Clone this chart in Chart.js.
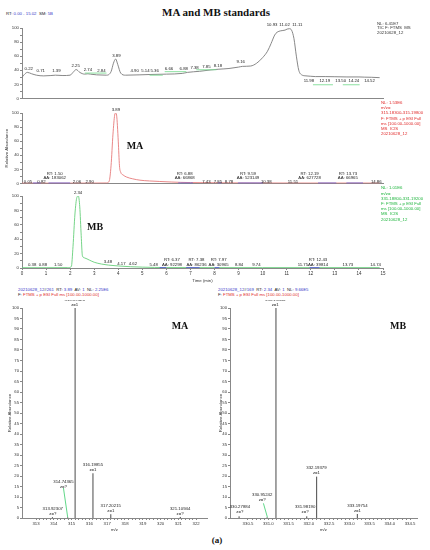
<!DOCTYPE html>
<html>
<head>
<meta charset="utf-8">
<script src="https://cdn.jsdelivr.net/npm/chart.js@4"></script>
<style>
    body { margin: 0; width: 430px; height: 550px; position: relative; overflow: hidden; background: #fff;
           font-family: "Liberation Sans", Arial, sans-serif; }
    canvas { position: absolute; }
    .t { position: absolute; white-space: nowrap; font-size: 4.3px; line-height: 5px; color: #222; }
    .c { transform: translate(-50%, -50%); }
    .serif { font-family: "Liberation Serif", "Times New Roman", serif; font-weight: bold; color: #111; }
    .b { color: #3535c8; }
    .r { color: #e02a2a; }
    .g { color: #1db43c; }
</style>
</head>
<body>

<canvas id="tic" width="395" height="82" style="left:0;top:20px"></canvas>
<canvas id="xic_ma" width="395" height="82" style="left:0;top:105px"></canvas>
<canvas id="xic_mb" width="395" height="98" style="left:0;top:188px"></canvas>
<canvas id="spec_ma" width="215" height="234" style="left:0;top:300px"></canvas>
<canvas id="spec_mb" width="215" height="234" style="left:215px;top:300px"></canvas>

<div class="t serif c" style="left:216px;top:12px;font-size:11px;line-height:13px">MA and MB standards</div>
<div class="t" style="left:6px;top:10.5px">RT: <span class="b">0.00 - 15.02</span> &nbsp;SM: <span class="b">5B</span></div>

<div class="t" style="left:377px;top:21.7px;line-height:4.5px;color:#333">NL: 6.41E7<br>TIC F: FTMS &nbsp;MS<br>20210628_12</div>
<div class="t r" style="left:381px;top:99.9px;line-height:5.2px">NL: 1.53E6<br>m/z=<br>315.18300-315.19800<br>F: FTMS + p ESI Full<br>ms [100.00-1000.00]<br>MS &nbsp;ICIS<br>20210628_12</div>
<div class="t g" style="left:381px;top:185.4px;line-height:5.2px">NL: 1.01E6<br>m/z=<br>331.18800-331.19200<br>F: FTMS + p ESI Full<br>ms [100.00-1000.00]<br>MS &nbsp;ICIS<br>20210628_12</div>

<div class="t serif c" style="left:135px;top:146px;font-size:10px;line-height:12px">MA</div>
<div class="t serif c" style="left:95px;top:227px;font-size:10px;line-height:12px">MB</div>

<div class="t" style="left:18px;top:286.8px"><span class="b">20210628_12</span>#<span class="b">261</span> &nbsp;RT: <span class="b">3.89</span> &nbsp;AV: <span class="b">1</span> &nbsp;NL: <span class="b">2.25E6</span><br>F: <span class="r">FTMS + p ESI Full ms [100.00-1000.00]</span></div>
<div class="t" style="left:218px;top:286.8px"><span class="b">20210628_12</span>#<span class="b">169</span> &nbsp;RT: <span class="b">2.34</span> &nbsp;AV: <span class="b">1</span> &nbsp;NL: <span class="b">9.66E5</span><br>F: <span class="r">FTMS + p ESI Full ms [100.00-1000.00]</span></div>

<div class="t serif c" style="left:180px;top:326px;font-size:10px;line-height:12px">MA</div>
<div class="t serif c" style="left:398px;top:326px;font-size:10px;line-height:12px">MB</div>
<div class="t serif c" style="left:217px;top:540px;font-size:9px;line-height:11px">(a)</div>

<script>
const FONT = '"Liberation Sans", Arial, sans-serif';

// chromatograms
const timeTicks = [0, 1, 2, 3, 4, 5, 6, 7, 8, 9, 10, 11, 12, 13, 14, 15];
const abundanceTicks = [0, 20, 40, 60, 80, 100];

const ticTime = [0, 0.1, 0.22, 0.4, 0.6, 0.9, 1.2, 1.39, 1.7, 2.0, 2.12, 2.25, 2.4, 2.6, 2.74, 2.84, 3.1, 3.5, 3.7, 3.8, 3.89, 3.98, 4.1, 4.3, 4.9, 5.36, 6.0, 6.66, 6.88, 7.38, 7.85, 8.18, 8.6, 9.0, 9.16, 9.5, 9.75, 10.0, 10.2, 10.35, 10.5, 10.6, 10.75, 10.93, 11.02, 11.11, 11.2, 11.3, 11.4, 11.5, 11.62, 11.8, 11.98, 12.19, 12.6, 13.0, 13.5, 14.0, 14.24, 14.52, 14.86];
const ticValue = [30, 34, 37, 35, 33, 32, 32.5, 33, 32.5, 33, 37, 41, 37, 34.5, 35, 34.5, 33.5, 33, 38, 50, 56, 48, 36, 33, 33.5, 34, 34.5, 35.5, 37, 38.5, 40.5, 41.5, 42.5, 44.5, 45.5, 46, 50, 58, 67, 78, 90, 94, 96, 97, 98.5, 99, 97, 85, 60, 40, 33.5, 32, 31.5, 31, 31, 30.8, 30.5, 30.5, 30.2, 30, 29.5];
const ticLabelText = ['0.22', '0.71', '1.39', '2.25', '2.74', '2.84', '3.89', '4.90', '5.14', '5.36', '6.66', '6.88', '7.38', '7.85', '8.18', '9.16', '10.93', '11.02', '11.11', '11.98', '12.19', '13.50', '14.24', '14.52'];
const ticLabelTime = [0.28, 0.78, 1.43, 2.23, 2.74, 3.30, 3.92, 4.68, 5.13, 5.51, 6.11, 6.72, 7.17, 7.66, 8.14, 9.09, 10.39, 10.91, 11.44, 11.92, 12.58, 13.24, 13.79, 14.44];
const ticLabelLevel = [42, 39.3, 39.3, 45.8, 40.3, 39.3, 61, 38.9, 38.9, 38.9, 41.7, 41.7, 43, 45.4, 46.3, 51.8, 104, 105, 105, 25, 25, 25, 25, 25.4];
const ticBaseStart = [2.61, 5.3, 5.93, 7.24, 10.43, 12.09, 13.33];
const ticBaseEnd = [3.51, 5.85, 6.83, 8.08, 11.54, 12.92, 14.03];
const ticBaseLevel = [36, 33, 38, 40.7, 101, 19.4, 19.4];

const maTime = [0, 1.0, 2.0, 3.0, 3.5, 3.62, 3.7, 3.78, 3.85, 3.89, 3.93, 4.0, 4.05, 4.1, 4.2, 4.35, 4.6, 4.9, 5.3, 5.7, 6.2, 6.6, 7.0, 8.0, 9.0, 10.0, 12.0, 14.86];
const maValue = [0.4, 0.4, 0.4, 0.5, 0.6, 3, 25, 70, 97, 100, 97, 60, 25, 16, 12, 9, 6.5, 4.6, 3.5, 2.8, 2, 1.5, 1.2, 0.9, 0.7, 0.6, 0.5, 0.5];
const maLabelText = ['0.05', '0.82', 'RT: 1.50\nAA: 183062', '2.06', '2.90', 'RT: 6.88\nAA: 66868', '7.43', '7.85', '8.78', 'RT: 9.59\nAA: 523149', '10.38', '11.51', 'RT: 12.19\nAA: 627728', 'RT: 13.73\nAA: 66965', '14.86', '3.89'];
const maLabelTime = [0.25, 0.81, 1.36, 2.28, 2.81, 6.76, 7.66, 8.14, 8.6, 9.39, 10.15, 11.26, 11.95, 13.54, 14.72, 3.9];
const maLabelLevel = [2, 2, 8, 2, 2, 8, 2, 2, 2, 8, 2, 2, 8, 8, 2, 105];
const maBaseStart = [0.45, 1.1, 6.49, 8.14, 8.97, 12.3, 13.48];
const maBaseEnd = [0.78, 2.0, 7.1, 8.28, 10.01, 13.06, 14.17];
const maBaseLevel = [0.5, 0.5, 0.5, 0.5, 0.5, 0.5, 0.5];

const mbTime = [0, 1.0, 1.9, 2.05, 2.12, 2.2, 2.28, 2.34, 2.4, 2.46, 2.51, 2.6, 2.8, 3.0, 3.3, 3.6, 4.0, 4.5, 5.0, 5.5, 6.0, 8.0, 10.0, 12.0, 14.86];
const mbValue = [0.4, 0.4, 0.5, 2, 30, 75, 98, 100, 85, 45, 17, 14, 11, 8, 5.5, 4, 2.8, 1.8, 1.2, 0.8, 0.6, 0.5, 0.5, 0.5, 0.5];
const mbLabelText = ['2.34', '0.38', '0.88', '1.50', '3.48', '4.17', '4.62', '5.48', 'RT: 6.37\nAA: 92298', 'RT: 7.38\nAA: 86236', 'RT: 7.97\nAA: 30965', '8.84', '9.74', '11.75', 'RT: 12.43\nAA: 39814', '13.73', '14.74'];
const mbLabelTime = [2.33, 0.42, 0.87, 1.50, 3.57, 4.13, 4.61, 5.47, 6.23, 7.25, 8.17, 9.02, 9.74, 11.67, 12.3, 13.54, 14.69];
const mbLabelLevel = [105, 5, 5, 5, 8, 5.6, 5.6, 5, 5, 5, 5, 5, 5, 5, 5, 5, 5];
const mbBaseStart = [5.72, 6.82, 8.0, 11.95];
const mbBaseEnd = [6.0, 7.38, 8.2, 12.36];
const mbBaseLevel = [0.5, 0.5, 0.5, 0.5];

// mass spectra
const percentTicks = [0, 5, 10, 15, 20, 25, 30, 35, 40, 45, 50, 55, 60, 65, 70, 75, 80, 85, 90, 95, 100];
const maMzTicks = [313, 314, 315, 316, 317, 318, 319, 320, 321, 322];
const mbMzTicks = [330.5, 331.0, 331.5, 332.0, 332.5, 333.0, 333.5, 334.0, 334.5];

const maMz = [313.92, 314.78, 315.195, 316.199, 317.202, 321.109];
const maIntensity = [0.4, 0.3, 100, 21.3, 1.8, 0.5];
const maPeakText = ['313.92307\nz=?', '314.74365\nz=?', '315.19526\nz=1', '316.19855\nz=1', '317.20215\nz=1', '321.10944\nz=?'];
const maPeakTextMz = [313.94, 314.54, 315.17, 316.2, 317.2, 321.1];
const maPeakTextLevel = [0.4, 13.1, 100, 21.3, 1.8, 0.5];
const maLeaderMz = [314.54, 314.78];
const maLeaderLevel = [14.3, 0.3];

const mbMz = [330.28, 330.97, 331.19, 331.95, 332.194, 333.198];
const mbIntensity = [0.8, 0.3, 100, 0.8, 19.7, 1.9];
const mbPeakText = ['330.27884\nz=?', '330.95242\nz=?', '331.19046\nz=1', '331.98190\nz=?', '332.19379\nz=1', '333.19754\nz=1'];
const mbPeakTextMz = [330.3, 330.85, 331.17, 331.91, 332.19, 333.2];
const mbPeakTextLevel = [1.3, 7, 100, 1.3, 19.7, 1.9];
const mbLeaderMz = [330.88, 330.98];
const mbLeaderLevel = [7, 0.3];

function xy(xs, ys) {
    return xs.map((x, i) => ({ x: x, y: ys[i] }));
}

function sticks(xs, ys) {
    const out = [];
    xs.forEach((x, i) => { out.push({ x: x, y: 0 }, { x: x, y: ys[i] }, { x: x, y: null }); });
    return out;
}

function segments(starts, ends, levels) {
    const out = [];
    starts.forEach((s, i) => { out.push({ x: s, y: levels[i] }, { x: ends[i], y: levels[i] }, { x: ends[i], y: null }); });
    return out;
}

function minorFill(major, parts) {
    const out = [];
    for (let i = 0; i < major.length - 1; i++) {
        for (let k = 0; k < parts; k++) {
            out.push(Math.round((major[i] + (major[i + 1] - major[i]) * k / parts) * 1000) / 1000);
        }
    }
    out.push(major[major.length - 1]);
    return out;
}

// text tied to data positions (peak labels, RT/AA notes)
function labelPlugin(texts, xs, levels, color, lift, gap) {
    return {
        id: 'peakText',
        afterDatasetsDraw(chart) {
            const { ctx, scales } = chart;
            ctx.save();
            ctx.font = '4.3px ' + FONT;
            ctx.fillStyle = color;
            ctx.textAlign = 'center';
            ctx.textBaseline = 'middle';
            texts.forEach((text, i) => {
                const px = scales.x.getPixelForValue(xs[i]);
                const py = scales.y.getPixelForValue(levels[i]) - lift;
                const lines = text.split('\n');
                lines.forEach((line, k) => ctx.fillText(line, px, py - (lines.length - 1 - k) * gap));
            });
            ctx.restore();
        }
    };
}

function axisFont(size) {
    return { family: FONT, size: size };
}

function chromatogram(id, times, values, color, labels, base, baseColor, showTime, showTitle) {
    new Chart(document.getElementById(id), {
        type: 'line',
        data: {
            datasets: [
                { data: segments(base[0], base[1], base[2]), borderColor: baseColor, borderWidth: 0.9, pointRadius: 0 },
                { data: xy(times, values), borderColor: color, borderWidth: 0.9, pointRadius: 0, cubicInterpolationMode: 'monotone' }
            ]
        },
        options: {
            responsive: false,
            animation: false,
            events: [],
            layout: { padding: { top: 8, right: 12, bottom: showTime ? 0 : 2, left: 0 } },
            plugins: { legend: { display: false }, tooltip: { enabled: false } },
            scales: {
                x: {
                    type: 'linear', min: 0, max: 15,
                    afterBuildTicks: s => { s.ticks = timeTicks.map(v => ({ value: v })); },
                    ticks: { display: showTime, maxRotation: 0, autoSkip: false, padding: 1, color: '#333', font: axisFont(4.5) },
                    grid: { drawOnChartArea: false, drawTicks: showTime, tickLength: 2, color: '#888' },
                    border: { color: '#888', width: 1 },
                    title: { display: showTime, text: 'Time (min)', color: '#333', font: axisFont(4.3), padding: { top: 0, bottom: 2.5 } },
                    afterFit: s => { s.height = showTime ? 18 : 0; }
                },
                y: {
                    min: 0, max: 100,
                    afterBuildTicks: s => { s.ticks = minorFill(abundanceTicks, 2).map(v => ({ value: v })); },
                    ticks: { autoSkip: false, padding: 1, color: '#333', font: axisFont(4.3),
                             callback: v => abundanceTicks.includes(v) ? v : '' },
                    grid: { drawOnChartArea: false, tickLength: 2, color: '#888' },
                    border: { color: '#888', width: 1 },
                    title: { display: showTitle, text: 'Relative Abundance', color: '#333', font: axisFont(4.3), padding: { top: 4.4, bottom: 0 } },
                    afterFit: s => { s.width = 22; }
                }
            }
        },
        plugins: [labelPlugin(labels[0], labels[1], labels[2], '#222', 0, 4.3)]
    });
}

function spectrum(id, mz, intensity, leaderMz, leaderLevel, mzTicks, mzMin, mzMax, decimals, labels, axisWidth, padRight, titleOffset) {
    new Chart(document.getElementById(id), {
        type: 'line',
        data: {
            datasets: [
                { data: sticks(mz, intensity), borderColor: '#4a4a4a', borderWidth: 1, pointRadius: 0, spanGaps: false },
                { data: xy(leaderMz, leaderLevel), borderColor: '#4fd27a', borderWidth: 0.9, pointRadius: 0 }
            ]
        },
        options: {
            responsive: false,
            animation: false,
            events: [],
            layout: { padding: { top: 8, right: padRight, bottom: 0, left: 0 } },
            plugins: { legend: { display: false }, tooltip: { enabled: false } },
            scales: {
                x: {
                    type: 'linear', min: mzMin, max: mzMax,
                    afterBuildTicks: s => { s.ticks = minorFill(mzTicks, 5).filter(v => v >= mzMin && v <= mzMax).map(v => ({ value: v })); },
                    ticks: { maxRotation: 0, autoSkip: false, padding: 1, color: '#333', font: axisFont(4.3),
                             callback: v => mzTicks.includes(v) ? v.toFixed(decimals) : '' },
                    grid: { drawOnChartArea: false, tickLength: 2, color: '#888' },
                    border: { color: '#888', width: 1 },
                    title: { display: true, text: 'm/z', color: '#333', font: axisFont(4.3), padding: { top: 0, bottom: 1.4 } },
                    afterFit: s => { s.height = 16; }
                },
                y: {
                    min: 0, max: 100,
                    afterBuildTicks: s => { s.ticks = percentTicks.map(v => ({ value: v })); },
                    ticks: { autoSkip: false, padding: 1, color: '#333', font: axisFont(4.2) },
                    grid: { drawOnChartArea: false, tickLength: 2, color: '#888' },
                    border: { color: '#888', width: 1 },
                    title: { display: true, text: 'Relative Abundance', color: '#333', font: axisFont(4.3), padding: { top: titleOffset, bottom: 0 } },
                    afterFit: s => { s.width = axisWidth; }
                }
            }
        },
        plugins: [labelPlugin(labels[0], labels[1], labels[2], '#222', 3.5, 5)]
    });
}

chromatogram('tic', ticTime, ticValue, '#7a7a7a', [ticLabelText, ticLabelTime, ticLabelLevel],
             [ticBaseStart, ticBaseEnd, ticBaseLevel], '#7fdc95', false, false);
chromatogram('xic_ma', maTime, maValue, '#e77b7b', [maLabelText, maLabelTime, maLabelLevel],
             [maBaseStart, maBaseEnd, maBaseLevel], '#5a5ae0', false, true);
chromatogram('xic_mb', mbTime, mbValue, '#66cf7a', [mbLabelText, mbLabelTime, mbLabelLevel],
             [mbBaseStart, mbBaseEnd, mbBaseLevel], '#5a5ae0', true, false);

spectrum('spec_ma', maMz, maIntensity, maLeaderMz, maLeaderLevel, maMzTicks, 312.21, 322.61, 0,
         [maPeakText, maPeakTextMz, maPeakTextLevel], 22, 8, 7.4);
spectrum('spec_mb', mbMz, mbIntensity, mbLeaderMz, mbLeaderLevel, mbMzTicks, 330.056, 334.67, 1,
         [mbPeakText, mbPeakTextMz, mbPeakTextLevel], 15, 13, 3.4);
</script>
</body>
</html>
